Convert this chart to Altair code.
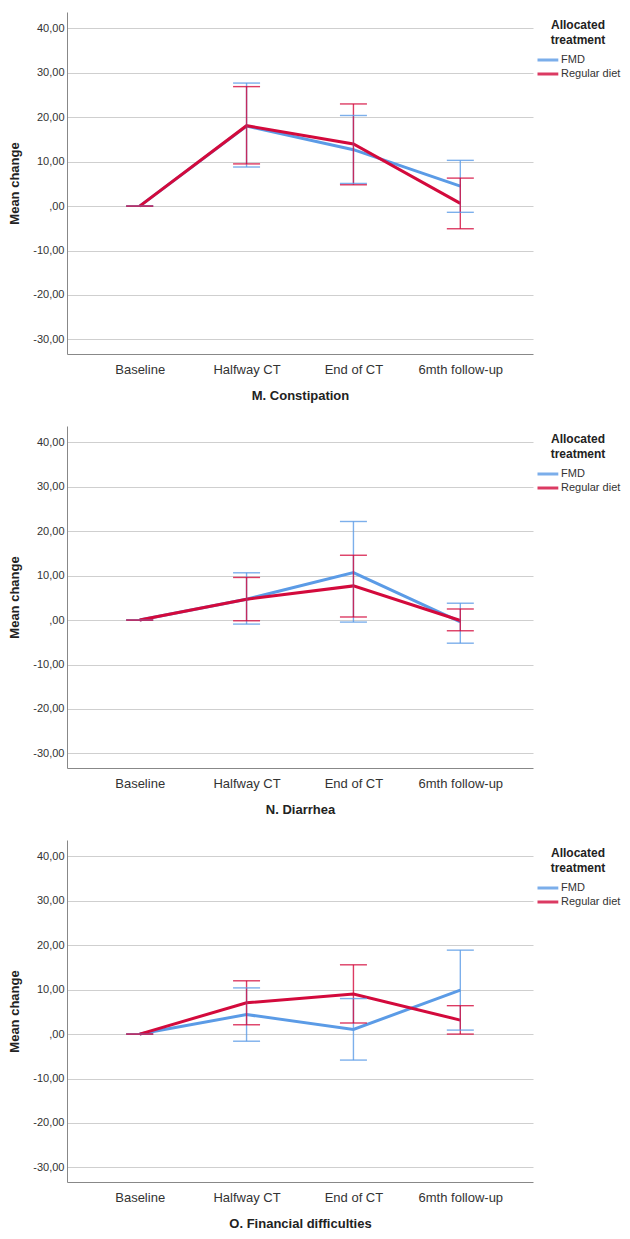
import altair as alt
import pandas as pd

times = ["Baseline", "Halfway CT", "End of CT", "6mth follow-up"]
groups = ["FMD", "Regular diet"]
colors = ["#5B9BE6", "#D30A3C"]
panels = ["M. Constipation", "N. Diarrhea", "O. Financial difficulties"]

# M. Constipation
m_fmd_mean = [0.0, 18.0, 12.7, 4.5]
m_fmd_lo = [0.0, 8.8, 5.1, -1.4]
m_fmd_hi = [0.0, 27.7, 20.4, 10.3]
m_reg_mean = [0.0, 18.1, 14.0, 0.6]
m_reg_lo = [0.0, 9.5, 4.8, -5.1]
m_reg_hi = [0.0, 26.9, 23.0, 6.3]

# N. Diarrhea
n_fmd_mean = [0.0, 4.7, 10.7, -0.4]
n_fmd_lo = [0.0, -0.9, -0.45, -5.2]
n_fmd_hi = [0.0, 10.65, 22.2, 3.8]
n_reg_mean = [0.0, 4.7, 7.7, -0.1]
n_reg_lo = [0.0, -0.15, 0.7, -2.4]
n_reg_hi = [0.0, 9.6, 14.6, 2.5]

# O. Financial difficulties
o_fmd_mean = [0.0, 4.4, 1.05, 9.9]
o_fmd_lo = [0.0, -1.6, -5.85, 0.9]
o_fmd_hi = [0.0, 10.4, 8.0, 18.9]
o_reg_mean = [0.0, 7.05, 9.0, 3.15]
o_reg_lo = [0.0, 2.1, 2.5, 0.0]
o_reg_hi = [0.0, 12.0, 15.6, 6.4]

series = {
    panels[0]: {"FMD": (m_fmd_mean, m_fmd_lo, m_fmd_hi), "Regular diet": (m_reg_mean, m_reg_lo, m_reg_hi)},
    panels[1]: {"FMD": (n_fmd_mean, n_fmd_lo, n_fmd_hi), "Regular diet": (n_reg_mean, n_reg_lo, n_reg_hi)},
    panels[2]: {"FMD": (o_fmd_mean, o_fmd_lo, o_fmd_hi), "Regular diet": (o_reg_mean, o_reg_lo, o_reg_hi)},
}

rows = []
for p in panels:
    for g in groups:
        mean, lo, hi = series[p][g]
        for t, m, l, h in zip(times, mean, lo, hi):
            rows.append({"panel": p, "group": g, "time": t, "mean": m, "lo": l, "hi": h})
df = pd.DataFrame(rows)

PW = 466
PH = 342

yticks = [-30, -20, -10, 0, 10, 20, 30, 40]
yscale = alt.Scale(domain=[-33.3, 43.7], nice=False, zero=False)
yaxis = alt.Axis(
    title="Mean change", values=yticks,
    labelExpr="datum.value == 0 ? ',00' : datum.value + ',00'",
    grid=True, gridColor="#cfcfcf", gridWidth=1, ticks=False,
    domainColor="#888888", labelFontSize=11, labelColor="#333333", labelPadding=3,
    titleFontSize=13, titleFontWeight="bold", titleColor="#222222", titlePadding=11,
)


def panel(name):
    d = df[df.panel == name]
    xenc = alt.X("time:N", sort=times, scale=alt.Scale(type="point", padding=0.68),
                 axis=alt.Axis(title=name, labelAngle=0, ticks=False, grid=False,
                               domainColor="#888888", labelFontSize=13, labelColor="#333333",
                               labelPadding=9, titleFontSize=13, titleFontWeight="bold",
                               titleColor="#222222", titlePadding=13))
    cenc = alt.Color("group:N", scale=alt.Scale(domain=groups, range=colors),
                     legend=alt.Legend(title=["Allocated", "treatment"], orient="none",
                                       legendX=PW + 3, legendY=8,
                                       symbolType="M-1,0H2.2", symbolStrokeWidth=3, symbolSize=169,
                                       rowPadding=0, labelFontSize=11, labelColor="#333333",
                                       labelOffset=9, titleFontSize=12, titleFontWeight="bold",
                                       titleColor="#222222", titleLineHeight=15,
                                       titleAnchor="middle", titlePadding=5, padding=0))
    base = alt.Chart(d).encode(x=xenc, color=cenc)
    lines = base.mark_line(strokeWidth=3).encode(y=alt.Y("mean:Q", scale=yscale, axis=yaxis))
    rules = base.mark_rule(strokeWidth=1.4, opacity=0.8).encode(
        y=alt.Y("lo:Q", scale=yscale, axis=yaxis), y2="hi:Q")
    cap_lo = base.mark_tick(size=27, thickness=1.4, opacity=0.8).encode(
        y=alt.Y("lo:Q", scale=yscale, axis=yaxis))
    cap_hi = base.mark_tick(size=27, thickness=1.4, opacity=0.8).encode(
        y=alt.Y("hi:Q", scale=yscale, axis=yaxis))
    return alt.layer(lines, rules, cap_lo, cap_hi).properties(width=PW, height=PH)


chart = alt.vconcat(*[panel(p) for p in panels], spacing=24).resolve_legend(
    color="independent"
).properties(
    padding={"left": 0, "top": 4, "right": 0, "bottom": 0}
).configure(font="Arial").configure_view(strokeWidth=0)

chart.save("out.html", embed_options={"renderer": "svg", "actions": False})
